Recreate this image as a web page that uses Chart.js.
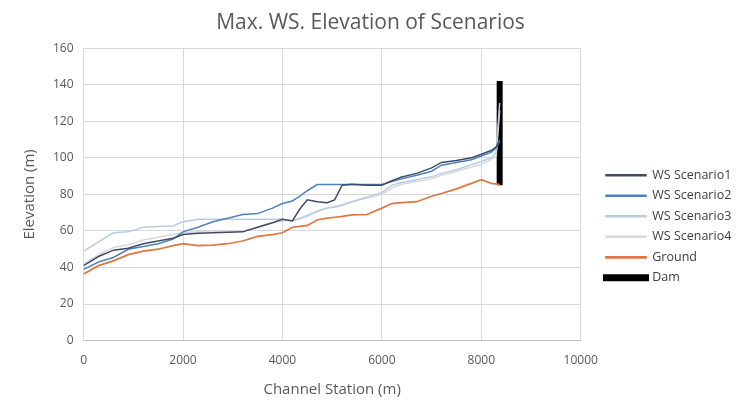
<!DOCTYPE html>
<html>
<head>
<meta charset="utf-8">
<script src="https://cdn.jsdelivr.net/npm/chart.js@4/dist/chart.umd.min.js"></script>
<style>
  html, body { margin: 0; padding: 0; background: #fff; }
  #wrap { width: 744px; height: 406px; position: relative; }
</style>
</head>
<body>
<div id="wrap"><canvas id="ws-chart"></canvas></div>
<script>
// stations along the channel (m)
const stations = [0, 300, 600, 900, 1200, 1500, 1800, 2000, 2300, 2600, 2900, 3200, 3500, 3800, 4000,
  4200, 4350, 4500, 4700, 4900, 5050, 5200, 5400, 5700, 6000, 6200, 6400, 6700, 7000, 7200, 7500,
  7800, 8000, 8200, 8300, 8370];

const wsScenario1 = [41, 46, 49.5, 50.5, 53, 54.5, 56, 58, 58.8, 59, 59.3, 59.5, 62, 64.5, 66.4,
  65.5, 72, 77, 76, 75.5, 77, 85, 85.5, 85, 85, 87.5, 89.5, 91.5, 94.5, 97.5, 98.5,
  100, 102, 104, 106, 110];
const wsScenario2 = [39, 43, 45.5, 50, 51.5, 53, 55.5, 59.5, 62, 65, 67, 69, 69.5, 72.5, 75,
  76.4, 79, 82, 85.4, 85.4, 85.4, 85.4, 85.4, 85.4, 85.4, 87, 88.5, 90.5, 92.7, 96, 97.5,
  99, 101, 103, 105.5, 109];
const wsScenario3 = [49, 54, 59, 59.5, 62, 62.5, 62.7, 65, 66.4, 66.4, 66.4, 66.4, 66.4, 66.4, 66.4,
  65.5, 67, 68.5, 71, 72.5, 73, 74, 76, 78.5, 81, 85, 86.5, 88, 89.6, 91.5, 93.5,
  96.3, 98, 100, 103, 130];
const wsScenario4 = [42, 47, 51, 52.5, 55, 56.5, 58, 59, 59.5, 60, 60, 60, 62, 64.5, 65.5,
  66, 66.4, 68, 70.5, 72.5, 73.5, 74.5, 76, 78, 80, 83.5, 85.5, 87, 88.5, 90.5, 92.5,
  95, 96.5, 99, 101, 126];
const ground = [36.5, 41, 43.6, 47, 49, 50, 52, 53, 52, 52.2, 53, 54.5, 57, 58, 59,
  62, 62.5, 63, 66, 67, 67.5, 68, 68.8, 69, 72.5, 75, 75.5, 76, 79, 80.5, 83,
  86, 88, 86, 85.8, 85.4];

const damStations = [8370, 8370];
const damElevation = [85, 142];

const xTicks = [0, 2000, 4000, 6000, 8000, 10000];
const yTicks = [0, 20, 40, 60, 80, 100, 120, 140, 160];

function toPoints(xs, ys) {
  return xs.map((x, i) => ({ x: x, y: ys[i] }));
}

function lineSet(label, xs, ys, color, width) {
  return {
    label: label,
    data: toPoints(xs, ys),
    borderColor: color,
    backgroundColor: color,
    borderWidth: width,
    showLine: true,
    pointRadius: 0,
    tension: 0,
    fill: false
  };
}

// move the legend where the reference has it
const legendSpot = {
  id: 'legendSpot',
  afterLayout(chart) {
    const lg = chart.legend;
    const w = lg.width, h = lg.height;
    lg.left = 598; lg.right = 598 + w;
    lg.top = 161; lg.bottom = 161 + h;
  }
};

const grey = '#595959';
const box = document.getElementById('ws-chart');
const chart = new Chart(box, {
  type: 'scatter',
  data: {
    datasets: [
      lineSet('WS Scenario1', stations, wsScenario1, '#3f4b68', 1.5),
      lineSet('WS Scenario2', stations, wsScenario2, '#4f81bd', 1.5),
      lineSet('WS Scenario3', stations, wsScenario3, '#b8cce4', 1.5),
      lineSet('WS Scenario4', stations, wsScenario4, '#d9d9d9', 1.5),
      lineSet('Ground', stations, ground, '#e0773f', 1.75),
      lineSet('Dam', damStations, damElevation, '#000000', 6)
    ]
  },
  options: {
    responsive: true,
    maintainAspectRatio: false,
    animation: false,
    layout: { padding: { left: 17, right: 20, top: 0, bottom: 3 } },
    scales: {
      x: {
        type: 'linear',
        min: 0,
        max: 10000,
        afterBuildTicks: (axis) => { axis.ticks = xTicks.map(v => ({ value: v })); },
        grid: { color: '#d9d9d9', lineWidth: 1, drawTicks: false },
        border: { color: '#bfbfbf' },
        ticks: { color: grey, padding: 13, font: { family: 'Open Sans', size: 12 }, maxRotation: 0,
          callback: (v) => String(v) },
        title: { display: true, text: 'Channel Station (m)', color: grey, font: { family: 'Open Sans', size: 15 }, padding: { top: 0 } }
      },
      y: {
        min: 0,
        max: 160,
        afterBuildTicks: (axis) => { axis.ticks = yTicks.map(v => ({ value: v })); },
        grid: { color: '#d9d9d9', lineWidth: 1, drawTicks: false },
        border: { color: '#d9d9d9' },
        ticks: { color: grey, padding: 10, font: { family: 'Open Sans', size: 12 },
          callback: (v) => String(v) },
        title: { display: true, text: 'Elevation (m)', color: grey, font: { family: 'Open Sans', size: 15 }, padding: { bottom: 4 } }
      }
    },
    plugins: {
      title: {
        display: true,
        text: 'Max. WS. Elevation of Scenarios',
        color: grey,
        font: { family: 'Open Sans', size: 21, weight: 'normal' },
        padding: { top: 10, bottom: 13 }
      },
      legend: {
        position: 'right',
        align: 'start',
        labels: {
          color: '#404040',
          font: { family: 'Open Sans', size: 12.5 },
          boxWidth: 40,
          boxHeight: 1,
          padding: 8,
          generateLabels: function (c) {
            return c.data.datasets.map((ds, i) => ({
              text: ds.label,
              fillStyle: ds.borderColor,
              strokeStyle: ds.borderColor,
              lineWidth: ds.borderWidth,
              fontColor: '#404040',
              hidden: false,
              datasetIndex: i
            }));
          }
        }
      },
      tooltip: { enabled: false }
    }
  },
  plugins: [legendSpot]
});
</script>
</body>
</html>
